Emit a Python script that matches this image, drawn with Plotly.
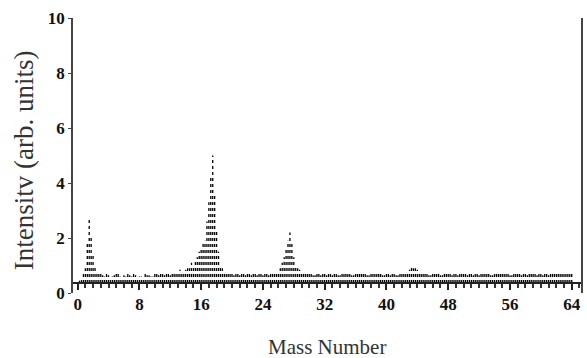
import plotly.graph_objects as go

# Mass positions (amu) and intensities
mass = [0.5 * (i + 1) for i in range(128)]
intensity = [
    0.5, 0.9, 2.7, 1.4, 0.8, 0.7, 0.6, 0.65, 0.6, 0.7,
    0.6, 0.65, 0.7, 0.6, 0.65, 0.6, 0.55, 0.65, 0.6, 0.7,
    0.65, 0.8, 0.7, 0.65, 0.75, 0.8, 0.75, 0.85, 0.9, 1.0,
    1.3, 1.6, 1.9, 3.3, 5.0, 2.3, 1.0, 0.8, 0.7, 0.75,
    0.7, 0.65, 0.7, 0.75, 0.65, 0.7, 0.7, 0.65, 0.7, 0.75,
    0.7, 0.8, 1.1, 1.6, 2.2, 1.3, 0.9, 0.8, 0.75, 0.7,
    0.65, 0.7, 0.65, 0.7, 0.75, 0.65, 0.7, 0.65, 0.7, 0.7,
    0.65, 0.7, 0.75, 0.7, 0.65, 0.7, 0.75, 0.7, 0.65, 0.7,
    0.65, 0.7, 0.65, 0.7, 0.75, 0.85, 0.9, 0.85, 0.75, 0.7,
    0.65, 0.7, 0.7, 0.65, 0.7, 0.7, 0.65, 0.7, 0.75, 0.7,
    0.65, 0.7, 0.7, 0.65, 0.7, 0.7, 0.65, 0.7, 0.7, 0.75,
    0.7, 0.65, 0.7, 0.7, 0.65, 0.7, 0.75, 0.7, 0.65, 0.7,
    0.7, 0.65, 0.7, 0.75, 0.7, 0.7, 0.75, 0.8,
]
# intermediate sticks (quarter-mass positions)
mass_mid = [0.25 + 0.5 * i for i in range(128)]
intensity_mid = [
    0.45, 0.7, 1.8, 2.0, 1.0, 0.75, 0.65, 0.7, 0.55, 0.65,
    0.7, 0.55, 0.6, 0.65, 0.7, 0.55, 0.6, 0.7, 0.65, 0.6,
    0.7, 0.75, 0.65, 0.7, 0.8, 0.7, 0.85, 0.8, 0.9, 1.1,
    1.2, 1.5, 1.8, 2.6, 4.2, 3.6, 1.5, 0.9, 0.75, 0.7,
    0.65, 0.75, 0.7, 0.65, 0.7, 0.75, 0.65, 0.7, 0.7, 0.65,
    0.75, 0.7, 0.9, 1.3, 1.9, 1.8, 1.0, 0.85, 0.7, 0.75,
    0.7, 0.65, 0.7, 0.75, 0.65, 0.7, 0.7, 0.65, 0.75, 0.7,
    0.7, 0.65, 0.7, 0.75, 0.7, 0.65, 0.7, 0.7, 0.75, 0.65,
    0.7, 0.7, 0.65, 0.7, 0.7, 0.8, 0.95, 0.9, 0.8, 0.75,
    0.7, 0.65, 0.7, 0.75, 0.65, 0.7, 0.7, 0.75, 0.65, 0.7,
    0.7, 0.75, 0.65, 0.7, 0.7, 0.75, 0.7, 0.65, 0.7, 0.7,
    0.75, 0.7, 0.65, 0.7, 0.75, 0.7, 0.65, 0.7, 0.75, 0.7,
    0.65, 0.7, 0.75, 0.7, 0.7, 0.75, 0.7, 0.75,
]
baseline = 0.36
x_ticks = [0, 8, 16, 24, 32, 40, 48, 56, 64]
y_ticks = [0, 2, 4, 6, 8, 10]

# build stick segments
sx, sy = [], []
for m, v in list(zip(mass, intensity)) + list(zip(mass_mid, intensity_mid)):
    sx += [m, m, None]
    sy += [baseline, v, None]

fig = go.Figure()
fig.add_trace(go.Scatter(x=sx, y=sy, mode="lines",
                         line=dict(color="black", width=1.3, dash="dot"),
                         hoverinfo="skip", showlegend=False))

tickfont = dict(family="Liberation Serif", size=17, color="#111")
fig.update_layout(
    width=587, height=358,
    margin=dict(l=73, r=4, t=18, b=65),
    paper_bgcolor="white", plot_bgcolor="white",
    font=dict(family="Liberation Serif", color="#222"),
    xaxis=dict(range=[-0.6, 65.2], tickvals=x_ticks,
               ticktext=[f"<b>{t}</b>" for t in x_ticks],
               anchor="free", position=0.036,
               showline=True, linecolor="#222", linewidth=1.5, mirror=True,
               ticks="outside", ticklen=6, tickcolor="#222", tickwidth=1.5,
               minor=dict(dtick=1, tick0=0, ticks="outside", ticklen=4, tickcolor="#333"),
               showgrid=False, zeroline=False, tickfont=tickfont),
    yaxis=dict(range=[0, 10], tickvals=y_ticks,
               ticktext=[f"<b>{t}</b>" for t in y_ticks],
               showline=True, linecolor="#444", linewidth=1.5, mirror=True,
               ticks="outside", ticklen=3, tickcolor="#444",
               showgrid=False, zeroline=False, tickfont=tickfont),
    annotations=[
        dict(text="Mass Number", xref="paper", yref="paper", x=0.5, y=-0.196,
             xanchor="center", yanchor="middle", showarrow=False,
             font=dict(family="Liberation Serif", size=21, color="#333")),
        dict(text="Intensitv (arb. units)", xref="paper", yref="paper", x=-0.096, y=0.484,
             xanchor="center", yanchor="middle", textangle=-90, showarrow=False,
             font=dict(family="Liberation Serif", size=27, color="#333")),
    ],
)
fig.write_html("out.html", config={"displayModeBar": False},
               post_script="document.body.style.margin='0';")
